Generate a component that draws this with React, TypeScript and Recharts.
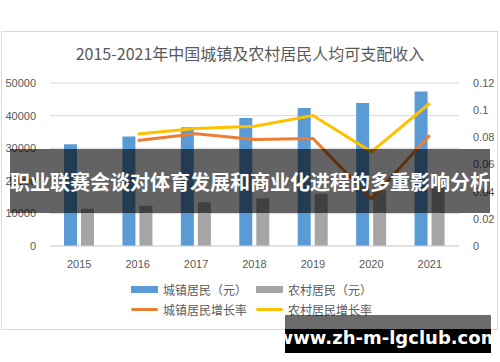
import { ComposedChart, Bar, Line, XAxis, YAxis, CartesianGrid } from 'recharts'

const years = ['2015', '2016', '2017', '2018', '2019', '2020', '2021']
const urbanIncome = [31195, 33616, 36396, 39251, 42359, 43834, 47412]
const ruralIncome = [11422, 12363, 13432, 14617, 16021, 17131, 18931]
const urbanGrowth = [null, 0.0776, 0.0827, 0.0784, 0.0792, 0.0348, 0.0816]
const ruralGrowth = [null, 0.0824, 0.0865, 0.0882, 0.0961, 0.0693, 0.1051]
const leftTicks = [0, 10000, 20000, 30000, 40000, 50000]
const rightTicks = [0, 0.02, 0.04, 0.06, 0.08, 0.1, 0.12]

const BLUE = '#5B9BD5'
const GRAY = '#A5A5A5'
const ORANGE = '#ED7D31'
const YELLOW = '#FFC000'
const TEXT = '#595959'
const CJK = '"Noto Sans CJK SC", "Noto Sans", sans-serif'

const chartData = years.map((year, i) => ({
  year,
  urban: urbanIncome[i],
  rural: ruralIncome[i],
  urbanRate: urbanGrowth[i],
  ruralRate: ruralGrowth[i],
}))

const tickStyle = { fill: TEXT, fontSize: 11, fontFamily: '"Liberation Sans", sans-serif' }

function LegendItem({ x, y, color, label, line }: { x: number; y: number; color: string; label: string; line?: boolean }) {
  return (
    <div style={{ position: 'absolute', left: x, top: y, display: 'flex', alignItems: 'center', height: 16 }}>
      <div style={{ width: 27, height: line ? 3 : 7, background: color, borderRadius: line ? 2 : 0 }} />
      <span style={{ marginLeft: 5, fontSize: 12, color: TEXT, fontFamily: CJK, whiteSpace: 'nowrap' }}>{label}</span>
    </div>
  )
}

export default function App() {
  return (
    <div style={{ position: 'fixed', left: 0, top: 0, width: 500, height: 362, background: '#fff', overflow: 'hidden' }}>
      <div style={{ position: 'absolute', left: 1, top: 31, width: 497, height: 299, border: '1px solid #d9d9d9', boxSizing: 'border-box' }} />
      <div style={{ position: 'absolute', left: 0, top: 41, width: 500, textAlign: 'center', fontSize: 16, color: TEXT, fontFamily: CJK }}>
        2015-2021年中国城镇及农村居民人均可支配收入
      </div>
      <div style={{ position: 'absolute', left: 0, top: 0 }}>
        <ComposedChart width={500} height={362} data={chartData} margin={{ top: 83, right: 0, left: 0, bottom: 86 }} barSize={13} barGap={4}>
          <CartesianGrid vertical={false} stroke="#d9d9d9" yAxisId="left" />
          <XAxis dataKey="year" tickLine={false} axisLine={{ stroke: '#d9d9d9' }} tick={tickStyle} height={30} tickMargin={8} />
          <YAxis yAxisId="left" domain={[0, 50000]} ticks={leftTicks} axisLine={false} tickLine={false} tick={tickStyle} width={50} tickMargin={8} />
          <YAxis yAxisId="right" orientation="right" domain={[0, 0.12]} ticks={rightTicks} axisLine={false} tickLine={false} tick={tickStyle} width={41} tickMargin={8} />
          <Bar yAxisId="left" dataKey="urban" fill={BLUE} isAnimationActive={false} />
          <Bar yAxisId="left" dataKey="rural" fill={GRAY} isAnimationActive={false} />
          <Line yAxisId="right" dataKey="urbanRate" stroke={ORANGE} strokeWidth={3} dot={false} isAnimationActive={false} />
          <Line yAxisId="right" dataKey="ruralRate" stroke={YELLOW} strokeWidth={3} dot={false} isAnimationActive={false} />
        </ComposedChart>
      </div>
      <LegendItem x={131} y={281} color={BLUE} label="城镇居民（元）" />
      <LegendItem x={256} y={281} color={GRAY} label="农村居民（元）" />
      <LegendItem x={131} y={301} color={ORANGE} label="城镇居民增长率" line />
      <LegendItem x={256} y={301} color={YELLOW} label="农村居民增长率" line />
      <div style={{ position: 'absolute', left: 10, top: 149, width: 480, height: 64, background: 'rgba(0,0,0,0.61)', display: 'flex', alignItems: 'center', justifyContent: 'center' }}>
        <span style={{ color: '#fff', fontSize: 20, fontWeight: 700, fontFamily: CJK, whiteSpace: 'nowrap' }}>职业联赛会谈对体育发展和商业化进程的多重影响分析</span>
      </div>
      <div style={{ position: 'absolute', left: 285, top: 315, width: 206, height: 14, background: 'rgba(0,0,0,0.58)' }} />
      <div style={{ position: 'absolute', left: 285, top: 329, width: 206, height: 24, background: '#000', display: 'flex', alignItems: 'center', justifyContent: 'center' }}>
        <span style={{ color: '#fff', fontSize: 18, fontWeight: 700, fontFamily: '"DejaVu Sans", sans-serif', whiteSpace: 'nowrap', marginTop: -8 }}>www.zh-m-lgclub.com</span>
      </div>
    </div>
  )
}
